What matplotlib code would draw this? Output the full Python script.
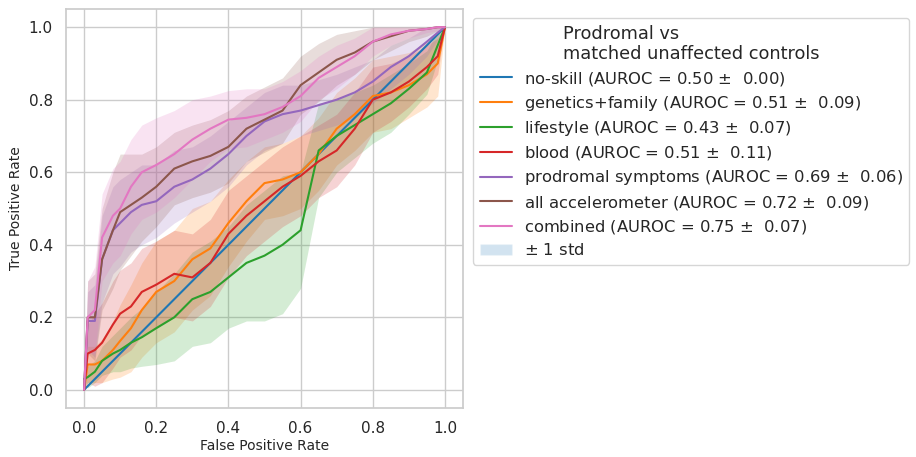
import matplotlib
matplotlib.use("Agg")
import matplotlib.pyplot as plt
import seaborn as sns
import numpy as np
from matplotlib.patches import Patch

sns.set_theme(style="whitegrid")
plt.rcParams['font.family'] = ['DejaVu Sans']

# mean ROC curves (shared FPR grid)
fpr = [0.0, 0.01, 0.03, 0.05, 0.08, 0.10, 0.13, 0.16, 0.20, 0.25, 0.30, 0.35, 0.40,
       0.45, 0.50, 0.55, 0.60, 0.65, 0.70, 0.75, 0.80, 0.85, 0.90, 0.95, 0.98, 1.0]

noskill_tpr = [0.0, 0.01, 0.03, 0.05, 0.08, 0.10, 0.13, 0.16, 0.20, 0.25, 0.30, 0.35, 0.40,
               0.45, 0.50, 0.55, 0.60, 0.65, 0.70, 0.75, 0.80, 0.85, 0.90, 0.95, 0.98, 1.0]
genetics_tpr = [0.0, 0.07, 0.07, 0.08, 0.11, 0.135, 0.17, 0.22, 0.27, 0.30, 0.36, 0.39, 0.46,
                0.52, 0.57, 0.58, 0.60, 0.65, 0.72, 0.76, 0.81, 0.82, 0.84, 0.87, 0.90, 1.0]
lifestyle_tpr = [0.03, 0.035, 0.05, 0.08, 0.10, 0.11, 0.13, 0.145, 0.17, 0.20, 0.25, 0.27, 0.31,
                 0.35, 0.37, 0.40, 0.44, 0.66, 0.70, 0.73, 0.76, 0.79, 0.83, 0.875, 0.95, 1.0]
blood_tpr = [0.0, 0.10, 0.11, 0.13, 0.18, 0.21, 0.23, 0.27, 0.29, 0.32, 0.31, 0.35, 0.43,
             0.48, 0.52, 0.56, 0.59, 0.63, 0.66, 0.72, 0.80, 0.82, 0.85, 0.89, 0.92, 1.0]
prodromal_tpr = [0.0, 0.19, 0.19, 0.36, 0.44, 0.46, 0.49, 0.51, 0.52, 0.56, 0.58, 0.61, 0.65,
                 0.70, 0.74, 0.76, 0.77, 0.785, 0.80, 0.82, 0.85, 0.89, 0.92, 0.96, 0.985, 1.0]
accel_tpr = [0.0, 0.20, 0.20, 0.36, 0.44, 0.49, 0.51, 0.53, 0.56, 0.61, 0.63, 0.645, 0.67,
             0.72, 0.745, 0.77, 0.84, 0.875, 0.91, 0.93, 0.96, 0.975, 0.99, 0.995, 1.0, 1.0]
combined_tpr = [0.0, 0.20, 0.22, 0.42, 0.48, 0.50, 0.56, 0.60, 0.62, 0.65, 0.69, 0.72, 0.745,
                0.75, 0.76, 0.78, 0.81, 0.86, 0.89, 0.92, 0.96, 0.98, 0.99, 0.995, 1.0, 1.0]

# std of TPR across folds
noskill_std = [0.0] * 26
genetics_std = [0.0, 0.05, 0.05, 0.06, 0.08, 0.10, 0.12, 0.13, 0.14, 0.14, 0.14, 0.13, 0.12,
                0.11, 0.10, 0.10, 0.10, 0.10, 0.10, 0.10, 0.10, 0.10, 0.09, 0.09, 0.09, 0.0]
lifestyle_std = [0.0, 0.03, 0.03, 0.04, 0.05, 0.06, 0.07, 0.08, 0.10, 0.12, 0.13, 0.14, 0.14,
                 0.16, 0.18, 0.19, 0.16, 0.13, 0.10, 0.09, 0.08, 0.08, 0.07, 0.06, 0.04, 0.0]
blood_std = [0.0, 0.08, 0.10, 0.11, 0.12, 0.12, 0.12, 0.12, 0.12, 0.12, 0.12, 0.12, 0.12,
             0.11, 0.11, 0.11, 0.11, 0.10, 0.10, 0.10, 0.09, 0.08, 0.07, 0.06, 0.05, 0.0]
prodromal_std = [0.0, 0.08, 0.10, 0.12, 0.12, 0.12, 0.11, 0.11, 0.10, 0.10, 0.09, 0.09, 0.09,
                 0.08, 0.08, 0.08, 0.07, 0.07, 0.07, 0.07, 0.06, 0.06, 0.05, 0.04, 0.02, 0.0]
accel_std = [0.0, 0.10, 0.12, 0.14, 0.16, 0.16, 0.14, 0.12, 0.11, 0.10, 0.10, 0.10, 0.10,
             0.09, 0.09, 0.09, 0.08, 0.08, 0.07, 0.06, 0.05, 0.04, 0.03, 0.02, 0.01, 0.0]
combined_std = [0.0, 0.10, 0.12, 0.12, 0.13, 0.13, 0.13, 0.13, 0.13, 0.12, 0.11, 0.09, 0.08,
                0.08, 0.07, 0.07, 0.07, 0.06, 0.06, 0.05, 0.04, 0.03, 0.02, 0.01, 0.01, 0.0]

names = ['no-skill', 'genetics+family', 'lifestyle', 'blood', 'prodromal symptoms',
         'all accelerometer', 'combined']
auroc = [0.50, 0.51, 0.43, 0.51, 0.69, 0.72, 0.75]
auroc_std = [0.00, 0.09, 0.07, 0.11, 0.06, 0.09, 0.07]
means = [noskill_tpr, genetics_tpr, lifestyle_tpr, blood_tpr, prodromal_tpr, accel_tpr, combined_tpr]
stds = [noskill_std, genetics_std, lifestyle_std, blood_std, prodromal_std, accel_std, combined_std]

colors = plt.get_cmap("tab10").colors

fig = plt.figure(figsize=(9.16, 4.57), dpi=100)
ax = fig.add_axes([66 / 916, 49 / 457, 397 / 916, 399 / 457])

x = np.array(fpr)
handles = []
for i, (name, m, s) in enumerate(zip(names, means, stds)):
    m = np.array(m)
    s = np.array(s)
    ln, = ax.plot(x, m, color=colors[i], lw=1.5,
                  label=f'{name} (AUROC = {auroc[i]:.2f} $\\pm$  {auroc_std[i]:.2f})')
    ax.fill_between(x, np.clip(m - s, 0, 1), np.clip(m + s, 0, 1), color=colors[i],
                    alpha=0.2, lw=0)
    handles.append(ln)
handles.append(Patch(facecolor=colors[0], alpha=0.2, label='$\\pm$ 1 std'))

ax.set_xlim(-0.05, 1.05)
ax.set_ylim(-0.05, 1.05)
ax.set_xlabel('False Positive Rate', fontsize=10, labelpad=2)
ax.set_ylabel('True Positive Rate', fontsize=10, labelpad=4)
ax.tick_params(labelsize=11)

leg = ax.legend(handles=handles, loc='upper left', bbox_to_anchor=(473 / 916, 1 - 18 / 457),
                bbox_transform=fig.transFigure, borderaxespad=0, fontsize=11.8,
                title='Prodromal vs\nmatched unaffected controls', title_fontsize=12.8,
                labelspacing=0.38, borderpad=0.4, handletextpad=0.7)
leg.get_title().set_multialignment('left')

fig.savefig('out.png', dpi=100)
